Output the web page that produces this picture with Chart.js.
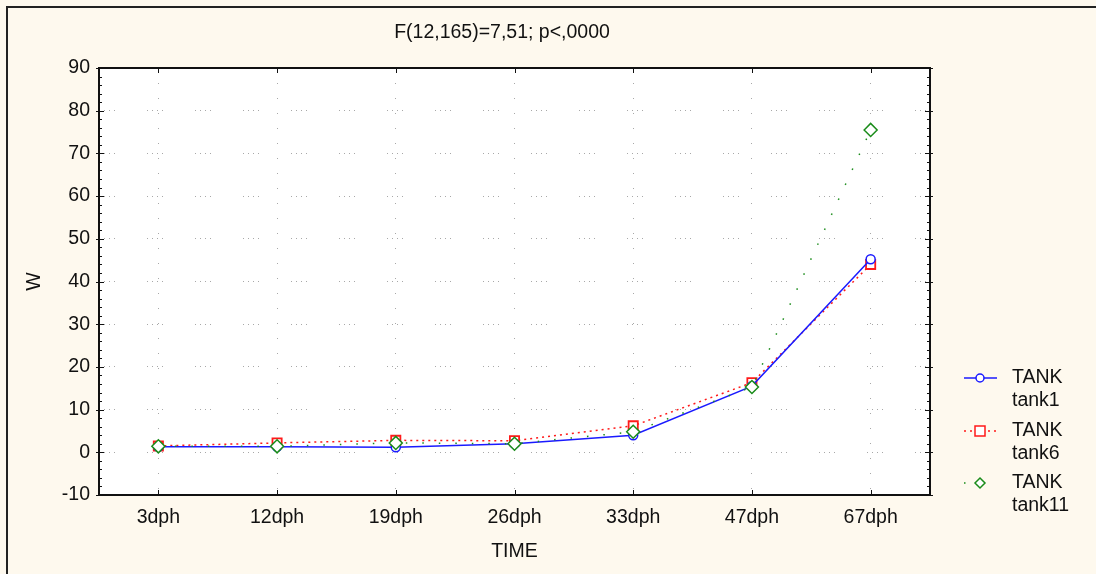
<!DOCTYPE html>
<html>
<head>
<meta charset="utf-8">
<script src="https://cdn.jsdelivr.net/npm/chart.js@4"></script>
<style>
  html, body { margin: 0; padding: 0; background: #fef9ee; }
  canvas { display: block; }
</style>
</head>
<body>
<canvas id="canvas" width="1096" height="574"></canvas>
<script>
const TIME_LABELS = ["3dph", "12dph", "19dph", "26dph", "33dph", "47dph", "67dph"];
const TANK1 = [1.3, 1.3, 1.2, 2.0, 4.0, 15.5, 45.2];
const TANK6 = [1.5, 2.2, 2.8, 2.7, 6.2, 16.3, 44.0];
const TANK11 = [1.4, 1.4, 2.2, 2.0, 4.8, 15.3, 75.5];
const Y_TICKS = [-10, 0, 10, 20, 30, 40, 50, 60, 70, 80, 90];
const TITLE = "F(12,165)=7,51; p<,0000";

const BG = "#fef9ee";
const FONT = "'Liberation Sans', Arial, sans-serif";
const FSIZE = 19.5;

// background, frame, inward ticks, title and legend
const framePlugin = {
  id: "frame",
  beforeDraw(chart) {
    const c = chart.ctx;
    const a = chart.chartArea;
    c.save();
    c.fillStyle = BG;
    c.fillRect(0, 0, chart.width, chart.height);
    c.strokeStyle = "#222";
    c.lineWidth = 2;
    c.strokeRect(7, 7, chart.width + 10, chart.height + 10);
    c.fillStyle = "#fff";
    c.fillRect(a.left, a.top, a.right - a.left, a.bottom - a.top);
    c.restore();
  },
  afterDatasetsDraw(chart) {
    const c = chart.ctx;
    const a = chart.chartArea;
    const x = chart.scales.x;
    const y = chart.scales.y;
    c.save();
    c.strokeStyle = "#111";
    c.lineWidth = 1;
    c.beginPath();
    for (let v = -10; v <= 90; v += 2) {
      const py = Math.round(y.getPixelForValue(v)) + 0.5;
      const major = v % 10 === 0;
      c.moveTo(a.left - (major ? 3 : 0), py);
      c.lineTo(a.left + (major ? 5 : 3), py);
      c.moveTo(a.right - (major ? 5 : 3), py);
      c.lineTo(a.right + (major ? 3 : 0), py);
    }
    TIME_LABELS.forEach((l, i) => {
      const px = Math.round(x.getPixelForValue(i)) + 0.5;
      c.moveTo(px, a.top);
      c.lineTo(px, a.top + 5);
      c.moveTo(px, a.bottom);
      c.lineTo(px, a.bottom - 5);
    });
    c.stroke();
    c.lineWidth = 2;
    c.strokeStyle = "#111";
    c.strokeRect(a.left, a.top, a.right - a.left, a.bottom - a.top);

    // title
    c.fillStyle = "#111";
    c.font = FSIZE + "px " + FONT;
    c.textAlign = "center";
    c.textBaseline = "middle";
    c.fillText(TITLE, 502, 33);

    // legend
    const items = chart.data.datasets;
    const rows = [378, 431, 483];
    items.forEach((ds, i) => {
      const ly = rows[i];
      c.strokeStyle = ds.borderColor;
      c.lineWidth = ds.borderWidth;
      c.setLineDash(ds.borderDash || []);
      c.beginPath();
      c.moveTo(964, ly);
      c.lineTo(997, ly);
      c.stroke();
      c.setLineDash([]);
      c.fillStyle = "#fff";
      c.lineWidth = 1.5;
      c.beginPath();
      if (ds.pointStyle === "circle") {
        c.arc(980, ly, 4, 0, Math.PI * 2);
      } else if (ds.pointStyle === "rect") {
        c.rect(975, ly - 5, 10, 10);
      } else {
        c.moveTo(980, ly - 5);
        c.lineTo(985, ly);
        c.lineTo(980, ly + 5);
        c.lineTo(975, ly);
        c.closePath();
      }
      c.fill();
      c.stroke();
      c.fillStyle = "#111";
      c.font = FSIZE + "px " + FONT;
      c.textAlign = "left";
      c.fillText("TANK", 1012, ly);
      c.fillText(ds.label, 1012, ly + 23);
    });
    c.restore();
  },
};

new Chart(document.getElementById("canvas"), {
  type: "line",
  data: {
    labels: TIME_LABELS,
    datasets: [
      {
        label: "tank1",
        data: TANK1,
        borderColor: "#1a1aff",
        backgroundColor: "#fff",
        borderWidth: 1.5,
        pointStyle: "circle",
        pointRadius: 4.5,
        pointBorderWidth: 1.5,
        order: 1,
      },
      {
        label: "tank6",
        data: TANK6,
        borderColor: "#ff1a1a",
        backgroundColor: "#fff",
        borderWidth: 1.5,
        borderDash: [2, 4],
        pointStyle: "rect",
        pointRadius: 6.5,
        pointBorderWidth: 1.8,
        order: 2,
      },
      {
        label: "tank11",
        data: TANK11,
        borderColor: "#1a8c1a",
        backgroundColor: "#fff",
        borderWidth: 1.5,
        borderDash: [1.5, 15],
        pointStyle: "rectRot",
        pointRadius: 6.5,
        pointBorderWidth: 1.5,
        order: 0,
      },
    ],
  },
  options: {
    responsive: false,
    animation: false,
    layout: { padding: { left: 0, top: 68, right: 166, bottom: 0 } },
    plugins: {
      legend: { display: false },
      tooltip: { enabled: false },
    },
    scales: {
      x: {
        offset: true,
        grid: { offset: false, color: "#a8a8a8", lineWidth: 1, drawTicks: false },
        border: { display: false, dash: [1, 14] },
        ticks: { color: "#111", font: { family: FONT, size: FSIZE }, padding: 11, maxRotation: 0 },
        title: { display: true, text: "TIME", color: "#111", font: { family: FONT, size: FSIZE }, padding: { top: 4, bottom: 11 } },
        afterFit(scale) { scale.height = 79; },
      },
      y: {
        min: -10,
        max: 90,
        afterBuildTicks(scale) { scale.ticks = Y_TICKS.map((v) => ({ value: v })); },
        grid: { color: "#a8a8a8", lineWidth: 1, drawTicks: false },
        border: { display: false, dash: [1, 4, 1, 4, 1, 4, 1, 32] },
        ticks: { color: "#111", font: { family: FONT, size: FSIZE }, padding: 9 },
        title: { display: true, text: "W", color: "#111", font: { family: FONT, size: FSIZE }, padding: { top: 23, bottom: 0 } },
        afterFit(scale) { scale.width = 99; },
      },
    },
  },
  plugins: [framePlugin],
});
</script>
</body>
</html>
